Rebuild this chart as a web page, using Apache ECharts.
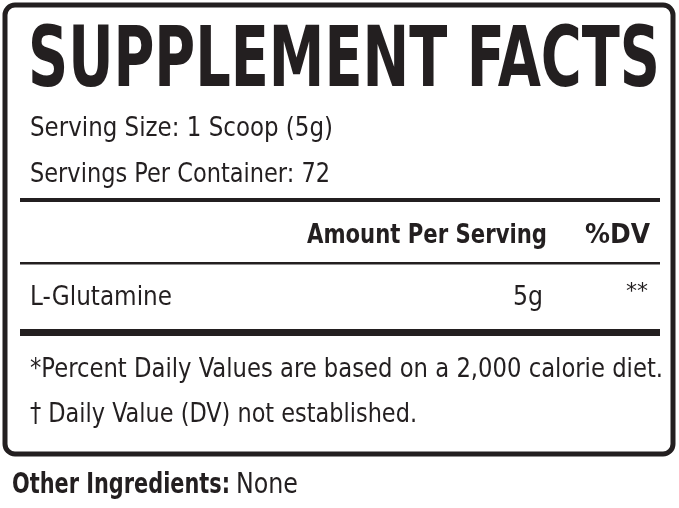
<!DOCTYPE html>
<html><head><meta charset="utf-8">
<script src="https://cdn.jsdelivr.net/npm/echarts@6/dist/echarts.min.js"></script>
<style>html,body{margin:0;background:#fff}#c{width:679px;height:508px}</style>
</head><body><div id="c"></div>
<script>
const title = "SUPPLEMENT FACTS";
const servingLines = ["Serving Size: 1 Scoop (5g)", "Servings Per Container: 72"];
const headers = ["Amount Per Serving", "%DV"];
const ingredients = ["L-Glutamine"];
const amounts = ["5g"];
const dvs = ["**"];
const footnotes = ["*Percent Daily Values are based on a 2,000 calorie diet.", "\u2020 Daily Value (DV) not established."];
const otherLabel = "Other Ingredients:";
const otherValue = " None";

const F = "'DejaVu Sans Condensed',sans-serif";
const C = '#231f20';
const ctx = document.createElement('canvas').getContext('2d');
function w(t, font){ ctx.font = font; return ctx.measureText(t).width; }
const g = [];
// text with fitted width: anchor x (left or right), center y
function T(t, x, y, font, target, align){
  const s = target ? target / w(t, font) : 1;
  g.push({type:'text', x, y, scaleX:s, originX:0, originY:0,
    style:{text:t, font, fill:C, align:align||'left', verticalAlign:'middle'}});
}
g.push({type:'rect',shape:{x:5,y:5,width:668,height:449,r:10},style:{fill:'#fff',stroke:C,lineWidth:5}});
T(title, 28, 64, `bold 84px ${F}`, 632);
T(servingLines[0], 30, 129, `27px ${F}`, 303);
T(servingLines[1], 30, 175, `27px ${F}`, 300);
g.push({type:'rect',shape:{x:20,y:198,width:640,height:4},style:{fill:C}});
T(headers[0], 547, 236, `bold 27px ${F}`, 240, 'right');
T(headers[1], 650, 236, `bold 27px ${F}`, 65, 'right');
g.push({type:'rect',shape:{x:20,y:262,width:640,height:2.5},style:{fill:C}});
ingredients.forEach((t,i)=>{
  const y=298+i*40;
  T(t, 30, y, `27px ${F}`, 142);
  T(amounts[i], 543, y, `27px ${F}`, 30, 'right');
  T(dvs[i], 648, y-6, `22px ${F}`, 22, 'right');
});
g.push({type:'rect',shape:{x:20,y:329,width:640,height:7},style:{fill:C}});
T(footnotes[0], 30, 370, `27px ${F}`, 633);
T(footnotes[1], 30, 415, `27px ${F}`, 387);
T(otherLabel, 12, 486, `bold 28px ${F}`, 218);
T(otherValue.trim(), 236, 486, `28px ${F}`, 62);
const chart = echarts.init(document.getElementById('c'));
chart.setOption({animation:false,graphic:g});
</script></body></html>
